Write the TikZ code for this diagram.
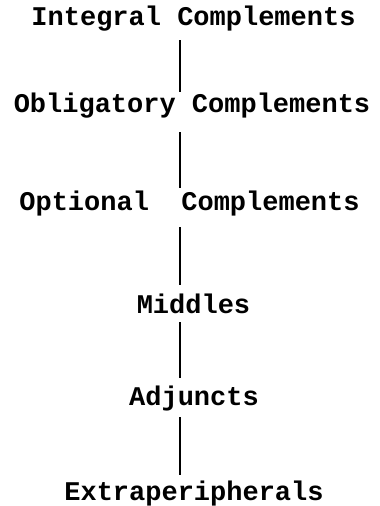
\documentclass[tikz,border=0pt]{standalone}
\usepackage{fontspec}
\setmainfont{Liberation Mono}
\newcommand\rankfont{\fontsize{27}{27}\selectfont\bfseries}

\begin{document}
\begin{tikzpicture}[
                  x = 1pt,
                  y = -1pt,
  every node/.style = {font=\rankfont, anchor=base, inner sep=0pt},
         link/.style = {draw, line width=1.2pt},
                   ]
\useasboundingbox (0,0) rectangle (380,506);
\coordinate (spine) at (180,0);
\node (integral)   at (193.5,25)  {Integral Complements};
\node (obligatory) at (192,112)   {Obligatory Complements};
\node (optional)   at (189.5,210) {Optional~~Complements};
\node (middles)    at (193.5,313) {Middles};
\node (adjuncts)   at (194,405)   {Adjuncts};
\node (extra)      at (194,500)   {Extraperipherals};
% ranks, top to bottom
\foreach \up/\down/\s/\e in {integral/obligatory/15/20,
                             obligatory/optional/20/22,
                             optional/middles/17/28,
                             middles/adjuncts/9/27,
                             adjuncts/extra/12/25}
    \draw[link] ([yshift=-\s pt]\up.base -| spine) -- ([yshift=\e pt]\down.base -| spine);
\end{tikzpicture}
\end{document}
